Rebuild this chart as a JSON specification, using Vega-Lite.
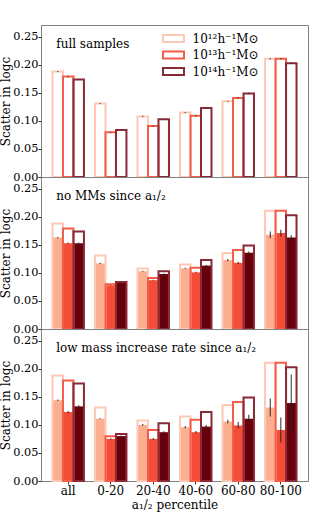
{
  "$schema": "https://vega.github.io/schema/vega-lite/v6.json",
  "padding": {"left": -1, "top": 24, "right": 5, "bottom": 5},
  "background": "white",
  "bounds": "flush",
  "config": {
    "font": "DejaVu Serif",
    "view": {"stroke": "#808080", "strokeWidth": 1},
    "axis": {"labelFont": "DejaVu Serif", "labelFontSize": 11.3, "labelColor": "black", "titleFont": "DejaVu Serif", "titleFontSize": 12, "titleFontWeight": "normal", "titleColor": "black", "grid": false, "domain": false, "tickColor": "#333", "tickSize": 3, "labelPadding": 0, "titlePadding": 0, "labelOverlap": false},
    "text": {"font": "DejaVu Serif", "fontSize": 12}
  },
  "datasets": {
    "d": [
      {"p": "p1", "cat": "all", "m": "10¹²h⁻¹M⊙", "full": 0.188, "val": 0.188, "lo": 0.187, "hi": 0.189},
      {"p": "p1", "cat": "all", "m": "10¹³h⁻¹M⊙", "full": 0.179, "val": 0.179, "lo": 0.178, "hi": 0.180},
      {"p": "p1", "cat": "all", "m": "10¹⁴h⁻¹M⊙", "full": 0.174, "val": 0.174, "lo": 0.1735, "hi": 0.1745},
      {"p": "p1", "cat": "0-20", "m": "10¹²h⁻¹M⊙", "full": 0.131, "val": 0.131, "lo": 0.130, "hi": 0.132},
      {"p": "p1", "cat": "0-20", "m": "10¹³h⁻¹M⊙", "full": 0.080, "val": 0.080, "lo": 0.0795, "hi": 0.0805},
      {"p": "p1", "cat": "0-20", "m": "10¹⁴h⁻¹M⊙", "full": 0.084, "val": 0.084, "lo": 0.0838, "hi": 0.0842},
      {"p": "p1", "cat": "20-40", "m": "10¹²h⁻¹M⊙", "full": 0.108, "val": 0.108, "lo": 0.107, "hi": 0.109},
      {"p": "p1", "cat": "20-40", "m": "10¹³h⁻¹M⊙", "full": 0.091, "val": 0.091, "lo": 0.090, "hi": 0.092},
      {"p": "p1", "cat": "20-40", "m": "10¹⁴h⁻¹M⊙", "full": 0.103, "val": 0.103, "lo": 0.1025, "hi": 0.1035},
      {"p": "p1", "cat": "40-60", "m": "10¹²h⁻¹M⊙", "full": 0.115, "val": 0.115, "lo": 0.114, "hi": 0.116},
      {"p": "p1", "cat": "40-60", "m": "10¹³h⁻¹M⊙", "full": 0.109, "val": 0.109, "lo": 0.108, "hi": 0.110},
      {"p": "p1", "cat": "40-60", "m": "10¹⁴h⁻¹M⊙", "full": 0.123, "val": 0.123, "lo": 0.1225, "hi": 0.1235},
      {"p": "p1", "cat": "60-80", "m": "10¹²h⁻¹M⊙", "full": 0.135, "val": 0.135, "lo": 0.134, "hi": 0.136},
      {"p": "p1", "cat": "60-80", "m": "10¹³h⁻¹M⊙", "full": 0.141, "val": 0.141, "lo": 0.140, "hi": 0.142},
      {"p": "p1", "cat": "60-80", "m": "10¹⁴h⁻¹M⊙", "full": 0.149, "val": 0.149, "lo": 0.148, "hi": 0.150},
      {"p": "p1", "cat": "80-100", "m": "10¹²h⁻¹M⊙", "full": 0.211, "val": 0.211, "lo": 0.210, "hi": 0.212},
      {"p": "p1", "cat": "80-100", "m": "10¹³h⁻¹M⊙", "full": 0.211, "val": 0.211, "lo": 0.210, "hi": 0.212},
      {"p": "p1", "cat": "80-100", "m": "10¹⁴h⁻¹M⊙", "full": 0.203, "val": 0.203, "lo": 0.202, "hi": 0.204},

      {"p": "p2", "cat": "all", "m": "10¹²h⁻¹M⊙", "full": 0.188, "val": 0.163, "lo": 0.162, "hi": 0.164},
      {"p": "p2", "cat": "all", "m": "10¹³h⁻¹M⊙", "full": 0.179, "val": 0.153, "lo": 0.152, "hi": 0.154},
      {"p": "p2", "cat": "all", "m": "10¹⁴h⁻¹M⊙", "full": 0.174, "val": 0.153, "lo": 0.152, "hi": 0.154},
      {"p": "p2", "cat": "0-20", "m": "10¹²h⁻¹M⊙", "full": 0.131, "val": 0.117, "lo": 0.116, "hi": 0.118},
      {"p": "p2", "cat": "0-20", "m": "10¹³h⁻¹M⊙", "full": 0.080, "val": 0.078, "lo": 0.077, "hi": 0.078},
      {"p": "p2", "cat": "0-20", "m": "10¹⁴h⁻¹M⊙", "full": 0.084, "val": 0.084, "lo": 0.0838, "hi": 0.0842},
      {"p": "p2", "cat": "20-40", "m": "10¹²h⁻¹M⊙", "full": 0.108, "val": 0.103, "lo": 0.102, "hi": 0.104},
      {"p": "p2", "cat": "20-40", "m": "10¹³h⁻¹M⊙", "full": 0.091, "val": 0.087, "lo": 0.086, "hi": 0.088},
      {"p": "p2", "cat": "20-40", "m": "10¹⁴h⁻¹M⊙", "full": 0.103, "val": 0.098, "lo": 0.097, "hi": 0.099},
      {"p": "p2", "cat": "40-60", "m": "10¹²h⁻¹M⊙", "full": 0.115, "val": 0.108, "lo": 0.107, "hi": 0.109},
      {"p": "p2", "cat": "40-60", "m": "10¹³h⁻¹M⊙", "full": 0.109, "val": 0.101, "lo": 0.100, "hi": 0.102},
      {"p": "p2", "cat": "40-60", "m": "10¹⁴h⁻¹M⊙", "full": 0.123, "val": 0.113, "lo": 0.112, "hi": 0.114},
      {"p": "p2", "cat": "60-80", "m": "10¹²h⁻¹M⊙", "full": 0.135, "val": 0.123, "lo": 0.121, "hi": 0.125},
      {"p": "p2", "cat": "60-80", "m": "10¹³h⁻¹M⊙", "full": 0.141, "val": 0.118, "lo": 0.116, "hi": 0.120},
      {"p": "p2", "cat": "60-80", "m": "10¹⁴h⁻¹M⊙", "full": 0.149, "val": 0.136, "lo": 0.134, "hi": 0.138},
      {"p": "p2", "cat": "80-100", "m": "10¹²h⁻¹M⊙", "full": 0.211, "val": 0.168, "lo": 0.162, "hi": 0.174},
      {"p": "p2", "cat": "80-100", "m": "10¹³h⁻¹M⊙", "full": 0.211, "val": 0.171, "lo": 0.165, "hi": 0.177},
      {"p": "p2", "cat": "80-100", "m": "10¹⁴h⁻¹M⊙", "full": 0.203, "val": 0.163, "lo": 0.159, "hi": 0.167},

      {"p": "p3", "cat": "all", "m": "10¹²h⁻¹M⊙", "full": 0.188, "val": 0.144, "lo": 0.1425, "hi": 0.1455},
      {"p": "p3", "cat": "all", "m": "10¹³h⁻¹M⊙", "full": 0.179, "val": 0.123, "lo": 0.121, "hi": 0.125},
      {"p": "p3", "cat": "all", "m": "10¹⁴h⁻¹M⊙", "full": 0.174, "val": 0.133, "lo": 0.131, "hi": 0.135},
      {"p": "p3", "cat": "0-20", "m": "10¹²h⁻¹M⊙", "full": 0.131, "val": 0.111, "lo": 0.110, "hi": 0.112},
      {"p": "p3", "cat": "0-20", "m": "10¹³h⁻¹M⊙", "full": 0.080, "val": 0.075, "lo": 0.074, "hi": 0.076},
      {"p": "p3", "cat": "0-20", "m": "10¹⁴h⁻¹M⊙", "full": 0.084, "val": 0.080, "lo": 0.079, "hi": 0.081},
      {"p": "p3", "cat": "20-40", "m": "10¹²h⁻¹M⊙", "full": 0.108, "val": 0.100, "lo": 0.0985, "hi": 0.1015},
      {"p": "p3", "cat": "20-40", "m": "10¹³h⁻¹M⊙", "full": 0.091, "val": 0.075, "lo": 0.0735, "hi": 0.0765},
      {"p": "p3", "cat": "20-40", "m": "10¹⁴h⁻¹M⊙", "full": 0.103, "val": 0.087, "lo": 0.0855, "hi": 0.0885},
      {"p": "p3", "cat": "40-60", "m": "10¹²h⁻¹M⊙", "full": 0.115, "val": 0.096, "lo": 0.094, "hi": 0.098},
      {"p": "p3", "cat": "40-60", "m": "10¹³h⁻¹M⊙", "full": 0.109, "val": 0.087, "lo": 0.085, "hi": 0.089},
      {"p": "p3", "cat": "40-60", "m": "10¹⁴h⁻¹M⊙", "full": 0.123, "val": 0.097, "lo": 0.094, "hi": 0.100},
      {"p": "p3", "cat": "60-80", "m": "10¹²h⁻¹M⊙", "full": 0.135, "val": 0.106, "lo": 0.103, "hi": 0.109},
      {"p": "p3", "cat": "60-80", "m": "10¹³h⁻¹M⊙", "full": 0.141, "val": 0.099, "lo": 0.094, "hi": 0.105},
      {"p": "p3", "cat": "60-80", "m": "10¹⁴h⁻¹M⊙", "full": 0.149, "val": 0.111, "lo": 0.106, "hi": 0.118},
      {"p": "p3", "cat": "80-100", "m": "10¹²h⁻¹M⊙", "full": 0.211, "val": 0.131, "lo": 0.115, "hi": 0.147},
      {"p": "p3", "cat": "80-100", "m": "10¹³h⁻¹M⊙", "full": 0.211, "val": 0.091, "lo": 0.069, "hi": 0.113},
      {"p": "p3", "cat": "80-100", "m": "10¹⁴h⁻¹M⊙", "full": 0.203, "val": 0.139, "lo": 0.089, "hi": 0.190}
    ],
    "labels": [
      {"p": "p1", "t": "full samples"},
      {"p": "p2", "t": "no MMs since a₁/₂"},
      {"p": "p3", "t": "low mass increase rate since a₁/₂"}
    ]
  },
  "spacing": 0,
  "resolve": {"legend": {"stroke": "independent"}},
  "vconcat": [
    {
      "width": 267, "height": 152,
      "data": {"name": "d"},
      "transform": [{"filter": "datum.p == 'p1'"}],
      "encoding": {
        "x": {"field": "cat", "type": "nominal", "sort": ["all", "0-20", "20-40", "40-60", "60-80", "80-100"], "scale": {"paddingInner": 0.26, "paddingOuter": 0.27}, "axis": null},
        "xOffset": {"field": "m", "type": "nominal", "sort": ["10¹²h⁻¹M⊙", "10¹³h⁻¹M⊙", "10¹⁴h⁻¹M⊙"], "scale": {"paddingInner": 0, "paddingOuter": 0}}
      },
      "layer": [
        {
          "mark": {"type": "bar", "filled": false, "strokeWidth": 2},
          "encoding": {
            "y": {"field": "full", "type": "quantitative", "scale": {"domain": [0, 0.271], "nice": false}, "axis": {"values": [0, 0.05, 0.1, 0.15, 0.2, 0.25], "format": ".2f", "title": "Scatter in logc", "labelOverlap": false}},
            "stroke": {"field": "m", "type": "nominal", "sort": ["10¹²h⁻¹M⊙", "10¹³h⁻¹M⊙", "10¹⁴h⁻¹M⊙"], "scale": {"domain": ["10¹²h⁻¹M⊙", "10¹³h⁻¹M⊙", "10¹⁴h⁻¹M⊙"], "range": ["#fdc8b4", "#f45c48", "#8a2a36"]},
              "legend": {"title": null, "orient": "none", "legendX": 126.5, "legendY": 7.5, "padding": 0, "symbolType": "M-2.1,-0.7H2.1V0.7H-2.1Z", "symbolSize": 100, "symbolStrokeWidth": 2, "symbolFillColor": "white", "labelFont": "DejaVu Serif", "labelFontSize": 12, "labelColor": "black", "labelOffset": 13, "rowPadding": 0.5}}
          }
        },
        {
          "mark": {"type": "rule", "color": "#222", "strokeWidth": 1.2, "opacity": 0.8},
          "encoding": {"y": {"field": "lo", "type": "quantitative", "axis": {"values": [0, 0.05, 0.1, 0.15, 0.2, 0.25], "format": ".2f", "title": "Scatter in logc", "labelOverlap": false}}, "y2": {"field": "hi"}}
        },
        {
          "data": {"name": "labels"},
          "transform": [{"filter": "datum.p == 'p1'"}],
          "mark": {"type": "text", "align": "left", "baseline": "middle", "dx": -12, "fontSize": 12, "color": "black"},
          "encoding": {"x": {"datum": "all"}, "xOffset": null, "y": {"datum": 0.237, "type": "quantitative", "axis": {"values": [0, 0.05, 0.1, 0.15, 0.2, 0.25], "format": ".2f", "title": "Scatter in logc", "labelOverlap": false}}, "text": {"field": "t"}}
        }
      ]
    },
    {
      "width": 267, "height": 152,
      "data": {"name": "d"},
      "transform": [{"filter": "datum.p == 'p2'"}],
      "encoding": {
        "x": {"field": "cat", "type": "nominal", "sort": ["all", "0-20", "20-40", "40-60", "60-80", "80-100"], "scale": {"paddingInner": 0.26, "paddingOuter": 0.27}, "axis": null},
        "xOffset": {"field": "m", "type": "nominal", "sort": ["10¹²h⁻¹M⊙", "10¹³h⁻¹M⊙", "10¹⁴h⁻¹M⊙"], "scale": {"paddingInner": 0, "paddingOuter": 0}}
      },
      "layer": [
        {
          "mark": {"type": "bar"},
          "encoding": {
            "y": {"field": "val", "type": "quantitative", "scale": {"domain": [0, 0.271], "nice": false}, "axis": {"values": [0, 0.05, 0.1, 0.15, 0.2, 0.25], "format": ".2f", "title": "Scatter in logc", "labelOverlap": false}},
            "fill": {"field": "m", "type": "nominal", "scale": {"domain": ["10¹²h⁻¹M⊙", "10¹³h⁻¹M⊙", "10¹⁴h⁻¹M⊙"], "range": ["#fcae91", "#f34c37", "#67000d"]}, "legend": null}
          }
        },
        {
          "mark": {"type": "bar", "filled": false, "strokeWidth": 2},
          "encoding": {
            "y": {"field": "full", "type": "quantitative", "axis": {"values": [0, 0.05, 0.1, 0.15, 0.2, 0.25], "format": ".2f", "title": "Scatter in logc", "labelOverlap": false}},
            "stroke": {"field": "m", "type": "nominal", "scale": {"domain": ["10¹²h⁻¹M⊙", "10¹³h⁻¹M⊙", "10¹⁴h⁻¹M⊙"], "range": ["#fdc8b4", "#f45c48", "#8a2a36"]}, "legend": null}
          }
        },
        {
          "mark": {"type": "rule", "color": "#222", "strokeWidth": 1.2, "opacity": 0.8},
          "encoding": {"y": {"field": "lo", "type": "quantitative", "axis": {"values": [0, 0.05, 0.1, 0.15, 0.2, 0.25], "format": ".2f", "title": "Scatter in logc", "labelOverlap": false}}, "y2": {"field": "hi"}}
        },
        {
          "data": {"name": "labels"},
          "transform": [{"filter": "datum.p == 'p2'"}],
          "mark": {"type": "text", "align": "left", "baseline": "middle", "dx": -12, "fontSize": 12, "color": "black"},
          "encoding": {"x": {"datum": "all"}, "xOffset": null, "y": {"datum": 0.237, "type": "quantitative", "axis": {"values": [0, 0.05, 0.1, 0.15, 0.2, 0.25], "format": ".2f", "title": "Scatter in logc", "labelOverlap": false}}, "text": {"field": "t"}}
        }
      ]
    },
    {
      "width": 267, "height": 152,
      "data": {"name": "d"},
      "transform": [{"filter": "datum.p == 'p3'"}],
      "encoding": {
        "x": {"field": "cat", "type": "nominal", "sort": ["all", "0-20", "20-40", "40-60", "60-80", "80-100"], "scale": {"paddingInner": 0.26, "paddingOuter": 0.27}, "axis": {"title": "a₁/₂ percentile", "labelAngle": 0, "labelPadding": 1, "titlePadding": 3, "labelFontSize": 12}},
        "xOffset": {"field": "m", "type": "nominal", "sort": ["10¹²h⁻¹M⊙", "10¹³h⁻¹M⊙", "10¹⁴h⁻¹M⊙"], "scale": {"paddingInner": 0, "paddingOuter": 0}}
      },
      "layer": [
        {
          "mark": {"type": "bar"},
          "encoding": {
            "y": {"field": "val", "type": "quantitative", "scale": {"domain": [0, 0.271], "nice": false}, "axis": {"values": [0, 0.05, 0.1, 0.15, 0.2, 0.25], "format": ".2f", "title": "Scatter in logc", "labelOverlap": false}},
            "fill": {"field": "m", "type": "nominal", "scale": {"domain": ["10¹²h⁻¹M⊙", "10¹³h⁻¹M⊙", "10¹⁴h⁻¹M⊙"], "range": ["#fcae91", "#f34c37", "#67000d"]}, "legend": null}
          }
        },
        {
          "mark": {"type": "bar", "filled": false, "strokeWidth": 2},
          "encoding": {
            "y": {"field": "full", "type": "quantitative", "axis": {"values": [0, 0.05, 0.1, 0.15, 0.2, 0.25], "format": ".2f", "title": "Scatter in logc", "labelOverlap": false}},
            "stroke": {"field": "m", "type": "nominal", "scale": {"domain": ["10¹²h⁻¹M⊙", "10¹³h⁻¹M⊙", "10¹⁴h⁻¹M⊙"], "range": ["#fdc8b4", "#f45c48", "#8a2a36"]}, "legend": null}
          }
        },
        {
          "mark": {"type": "rule", "color": "#222", "strokeWidth": 1.2, "opacity": 0.8},
          "encoding": {"y": {"field": "lo", "type": "quantitative", "axis": {"values": [0, 0.05, 0.1, 0.15, 0.2, 0.25], "format": ".2f", "title": "Scatter in logc", "labelOverlap": false}}, "y2": {"field": "hi"}}
        },
        {
          "data": {"name": "labels"},
          "transform": [{"filter": "datum.p == 'p3'"}],
          "mark": {"type": "text", "align": "left", "baseline": "middle", "dx": -12, "fontSize": 12, "color": "black"},
          "encoding": {"x": {"datum": "all"}, "xOffset": null, "y": {"datum": 0.237, "type": "quantitative", "axis": {"values": [0, 0.05, 0.1, 0.15, 0.2, 0.25], "format": ".2f", "title": "Scatter in logc", "labelOverlap": false}}, "text": {"field": "t"}}
        }
      ]
    }
  ]
}
